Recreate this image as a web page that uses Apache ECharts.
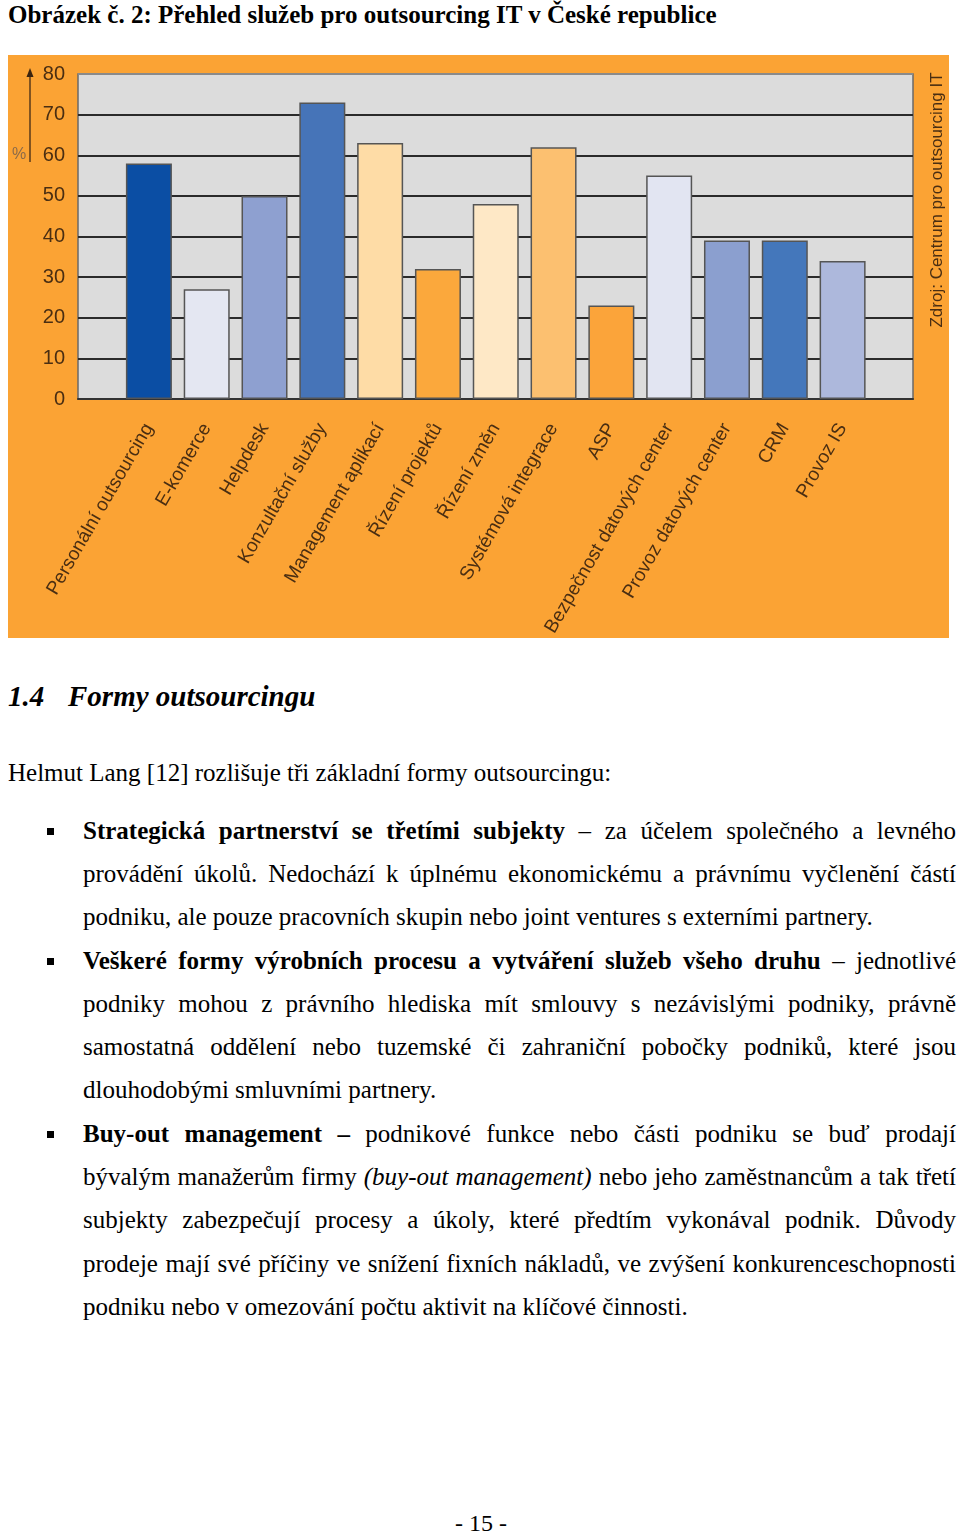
<!DOCTYPE html>
<html>
<head>
<meta charset="utf-8">
<script src="https://cdn.jsdelivr.net/npm/echarts@6/dist/echarts.min.js"></script>
<style>
  html, body { margin: 0; padding: 0; background: #fff; }
  body { width: 960px; height: 1534px; position: relative; overflow: hidden;
         font-family: "Liberation Serif", "Times New Roman", serif; color: #000; }
  .abs { position: absolute; white-space: nowrap; }
  #title { left: 8px; top: 0px; font-size: 25px; font-weight: bold; line-height: 30px; }
  #chart { position: absolute; left: 8px; top: 55px; width: 941px; height: 583px; }
  #heading { left: 8px; top: 679px; font-size: 29px; font-weight: bold; font-style: italic; line-height: 34px; }
  #heading .num { display: inline-block; width: 60px; }
  .line { position: absolute; left: 83px; width: 873px; font-size: 25px; line-height: 30px;
          white-space: nowrap; text-align: justify; text-align-last: justify; }
  .line.last { text-align: left; text-align-last: left; }
  .bullet { position: absolute; left: 47px; width: 7px; height: 7px; background: #000; }
  #intro { left: 8px; top: 758px; font-size: 25px; line-height: 30px; }
  #page { left: 0; width: 962px; top: 1508px; font-size: 24px; line-height: 30px; text-align: center; }
</style>
</head>
<body>
<div id="title" class="abs">Obrázek č. 2: Přehled služeb pro outsourcing IT v České republice</div>
<div id="chart"></div>
<div id="heading" class="abs"><span class="num">1.4</span>Formy outsourcingu</div>
<div id="intro" class="abs">Helmut Lang [12] rozlišuje tři základní formy outsourcingu:</div>

<div class="bullet" style="top:828px"></div>
<div class="line" style="top:816px"><b>Strategická partnerství se třetími subjekty</b> – za účelem společného a levného</div>
<div class="line" style="top:859px">provádění úkolů. Nedochází k&nbsp;úplnému ekonomickému a právnímu vyčlenění částí</div>
<div class="line last" style="top:902px">podniku, ale pouze pracovních skupin nebo joint ventures s externími partnery.</div>

<div class="bullet" style="top:958px"></div>
<div class="line" style="top:946px"><b>Veškeré formy výrobních procesu a vytváření služeb všeho druhu</b> – jednotlivé</div>
<div class="line" style="top:989px">podniky mohou z&nbsp;právního hlediska mít smlouvy s&nbsp;nezávislými podniky, právně</div>
<div class="line" style="top:1032px">samostatná oddělení nebo tuzemské či zahraniční pobočky podniků, které jsou</div>
<div class="line last" style="top:1075px">dlouhodobými smluvními partnery.</div>

<div class="bullet" style="top:1131px"></div>
<div class="line" style="top:1119px"><b>Buy-out management –</b> podnikové funkce nebo části podniku se buď prodají</div>
<div class="line" style="top:1162px">bývalým manažerům firmy <i>(buy-out management)</i> nebo jeho zaměstnancům a tak třetí</div>
<div class="line" style="top:1205px">subjekty zabezpečují procesy a úkoly, které předtím vykonával podnik. Důvody</div>
<div class="line" style="top:1249px">prodeje mají své příčiny ve snížení fixních nákladů, ve zvýšení konkurenceschopnosti</div>
<div class="line last" style="top:1292px">podniku nebo v omezování počtu aktivit na klíčové činnosti.</div>

<div id="page" class="abs">- 15 -</div>

<script>
const categories = ['Personální outsourcing', 'E-komerce', 'Helpdesk', 'Konzultační služby',
  'Management aplikací', 'Řízení projektů', 'Řízení změn', 'Systémová integrace', 'ASP',
  'Bezpečnost datových center', 'Provoz datových center', 'CRM', 'Provoz IS'];
const values = [58, 27, 50, 73, 63, 32, 48, 62, 23, 55, 39, 39, 34];
const barColors = ['#0b4ea4', '#e4e7f2', '#8ea0d0', '#4674b8', '#fedca6', '#fba83c', '#fee8c6',
  '#fcc070', '#fba43a', '#e2e5f2', '#8b9fcf', '#4477bb', '#adb8dc'];
const yMin = 0, yMax = 80, yStep = 10;
const sourceText = 'Zdroj: Centrum pro outsourcing IT';
const unitText = '%';

const sans = '"Liberation Sans", Arial, sans-serif';
const labelColor = '#4a2e12';

const chart = echarts.init(document.getElementById('chart'), null, { renderer: 'canvas' });
const splitColors = [];
for (let v = yMin; v <= yMax; v += yStep) splitColors.push(v === yMax ? '#8a8a8a' : '#2b2b2b');

chart.setOption({
  animation: false,
  backgroundColor: '#fba334',
  grid: [
    { left: 70, top: 19, width: 835, height: 325, show: true, backgroundColor: '#dcdcdc',
      borderColor: '#6a6a6a', borderWidth: 1.5, containLabel: false, outerBoundsMode: 'none' },
    { left: 112, top: 19, width: 751.5, height: 325, containLabel: false, outerBoundsMode: 'none' }
  ],
  xAxis: [
    { gridIndex: 0, type: 'value', min: 0, max: 1, axisLabel: { show: false },
      axisTick: { show: false }, splitLine: { show: false },
      axisLine: { show: true, lineStyle: { color: '#333', width: 2 } } },
    { gridIndex: 1, type: 'category', data: categories,
      axisLine: { show: false }, axisTick: { show: false },
      axisLabel: { interval: 0, rotate: 60, margin: 26, fontSize: 19, color: labelColor,
        fontFamily: sans } }
  ],
  yAxis: [
    { gridIndex: 0, type: 'value', min: yMin, max: yMax, interval: yStep,
      axisLine: { show: false }, axisTick: { show: false },
      axisLabel: { fontSize: 20, color: labelColor, fontFamily: sans, margin: 13 },
      splitLine: { show: true, lineStyle: { color: splitColors, width: 2 } } },
    { gridIndex: 1, type: 'value', min: yMin, max: yMax, show: false, splitLine: { show: false } }
  ],
  series: [{
    type: 'bar', xAxisIndex: 1, yAxisIndex: 1, barWidth: 46,
    itemStyle: { borderColor: '#555', borderWidth: 1.5 },
    data: values.map((v, i) => ({ value: v, itemStyle: { color: barColors[i] } }))
  }],
  graphic: [
    { type: 'line', shape: { x1: 22, y1: 20, x2: 22, y2: 107 },
      style: { stroke: '#5a3a1a', lineWidth: 1.5 } },
    { type: 'polygon', shape: { points: [[22, 13], [18.5, 22], [25.5, 22]] },
      style: { fill: '#3a2410' } },
    { type: 'text', x: 11, y: 100, style: { text: unitText, fontSize: 16, fontFamily: sans,
      fill: '#8a6a4a', align: 'center', verticalAlign: 'middle' } },
    { type: 'text', x: 929, y: 145, rotation: Math.PI / 2,
      style: { text: sourceText, fontSize: 17, fontFamily: sans, fill: labelColor,
        align: 'center', verticalAlign: 'middle' } }
  ]
});
</script>
</body>
</html>
